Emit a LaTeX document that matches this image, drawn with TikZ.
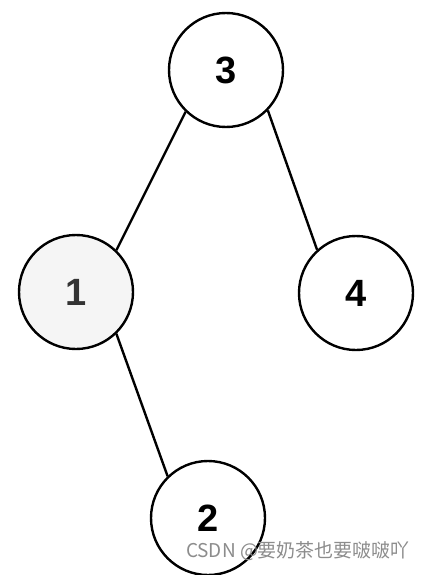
\documentclass[tikz,border=0pt]{standalone}
\usepackage{fontspec}
\setmainfont{Liberation Sans}
\newfontfamily\cjk{Noto Sans CJK SC}
\begin{document}
\begin{tikzpicture}[x=1pt,y=-1pt,
  treenode/.style={circle,draw=black,line width=2.4pt,minimum size=114pt,inner sep=0pt,
    font=\fontsize{38}{38}\selectfont\bfseries,fill=white},
  edge/.style={line width=2.4pt,draw=black}]
\useasboundingbox (0,0) rectangle (430,575);
\node[treenode] (n3) at (226,70) {3};
\node[treenode,fill={rgb,255:red,245;green,245;blue,245},text={rgb,255:red,51;green,51;blue,51}] (n1) at (76,292) {1};
\node[treenode] (n4) at (356,293) {4};
\node[treenode] (n2) at (208,518) {2};
\draw[edge] (n3.226) -- (n1.46);
\draw[edge] (n3.316) -- (n4.132);
\draw[edge] (n1.314) -- (n2.134);
\node[font=\cjk\fontsize{19}{19}\selectfont,text={rgb,255:red,140;green,140;blue,140},inner sep=0pt] (wm) at (298,551) {CSDN @要奶茶也要啵啵吖};
\end{tikzpicture}
\end{document}
